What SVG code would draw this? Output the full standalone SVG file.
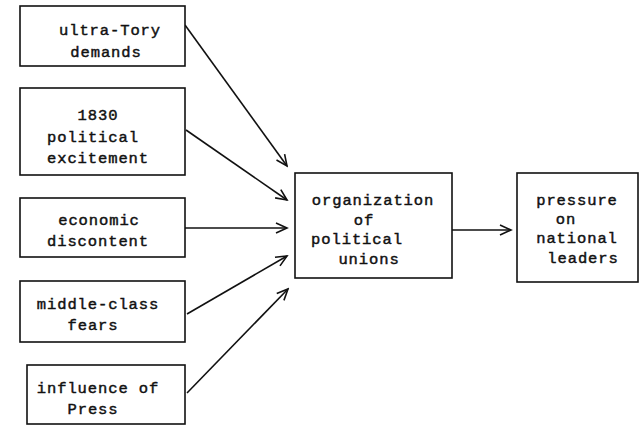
<svg xmlns="http://www.w3.org/2000/svg" width="641" height="426" viewBox="0 0 641 426">
<style>
.box{fill:#fff;stroke:#111;stroke-width:1.6}
.t{font-family:"Liberation Mono","DejaVu Sans Mono",monospace;font-size:15.5px;letter-spacing:0.9px;fill:#111;stroke:#111;stroke-width:0.45;text-anchor:middle}
.c{stroke:#111;stroke-width:1.6;fill:none}
</style>
<defs>
<marker id="ah" markerWidth="14" markerHeight="12" refX="12" refY="6" orient="auto" markerUnits="userSpaceOnUse">
<path d="M1,1 L12,6 L1,11" fill="none" stroke="#111" stroke-width="1.6"/>
</marker>
</defs>
<g id="connectors">
<line class="c" x1="185" y1="25" x2="287" y2="166" marker-end="url(#ah)"/>
<line class="c" x1="186" y1="130" x2="287" y2="200" marker-end="url(#ah)"/>
<line class="c" x1="185" y1="228" x2="287" y2="228" marker-end="url(#ah)"/>
<line class="c" x1="187" y1="314" x2="287" y2="256" marker-end="url(#ah)"/>
<line class="c" x1="187" y1="393" x2="288" y2="289" marker-end="url(#ah)"/>
<line class="c" x1="452" y1="230" x2="511" y2="230" marker-end="url(#ah)"/>
</g>
<g id="n1"><rect class="box" x="20" y="6" width="165" height="60"/>
<text class="t" x="110" y="35">ultra-Tory</text><text class="t" x="106" y="57">demands</text></g>
<g id="n2"><rect class="box" x="20" y="88" width="165" height="87"/>
<text class="t" x="98" y="120">1830</text><text class="t" x="93" y="142">political</text><text class="t" x="98" y="163">excitement</text></g>
<g id="n3"><rect class="box" x="20" y="198" width="165" height="59"/>
<text class="t" x="99" y="225">economic</text><text class="t" x="98" y="246">discontent</text></g>
<g id="n4"><rect class="box" x="20" y="281" width="165" height="61"/>
<text class="t" x="98" y="309">middle-class</text><text class="t" x="93" y="330">fears</text></g>
<g id="n5"><rect class="box" x="27" y="365" width="158" height="59"/>
<text class="t" x="98" y="393">influence of</text><text class="t" x="93" y="414">Press</text></g>
<g id="n6"><rect class="box" x="295" y="173" width="157" height="105"/>
<text class="t" x="373" y="205">organization</text><text class="t" x="364" y="225">of</text><text class="t" x="357" y="244">political</text><text class="t" x="369" y="264">unions</text></g>
<g id="n7"><rect class="box" x="517" y="173" width="121" height="109"/>
<text class="t" x="577" y="205">pressure</text><text class="t" x="566" y="224">on</text><text class="t" x="577" y="243">national</text><text class="t" x="583" y="263">leaders</text></g>
</svg>
